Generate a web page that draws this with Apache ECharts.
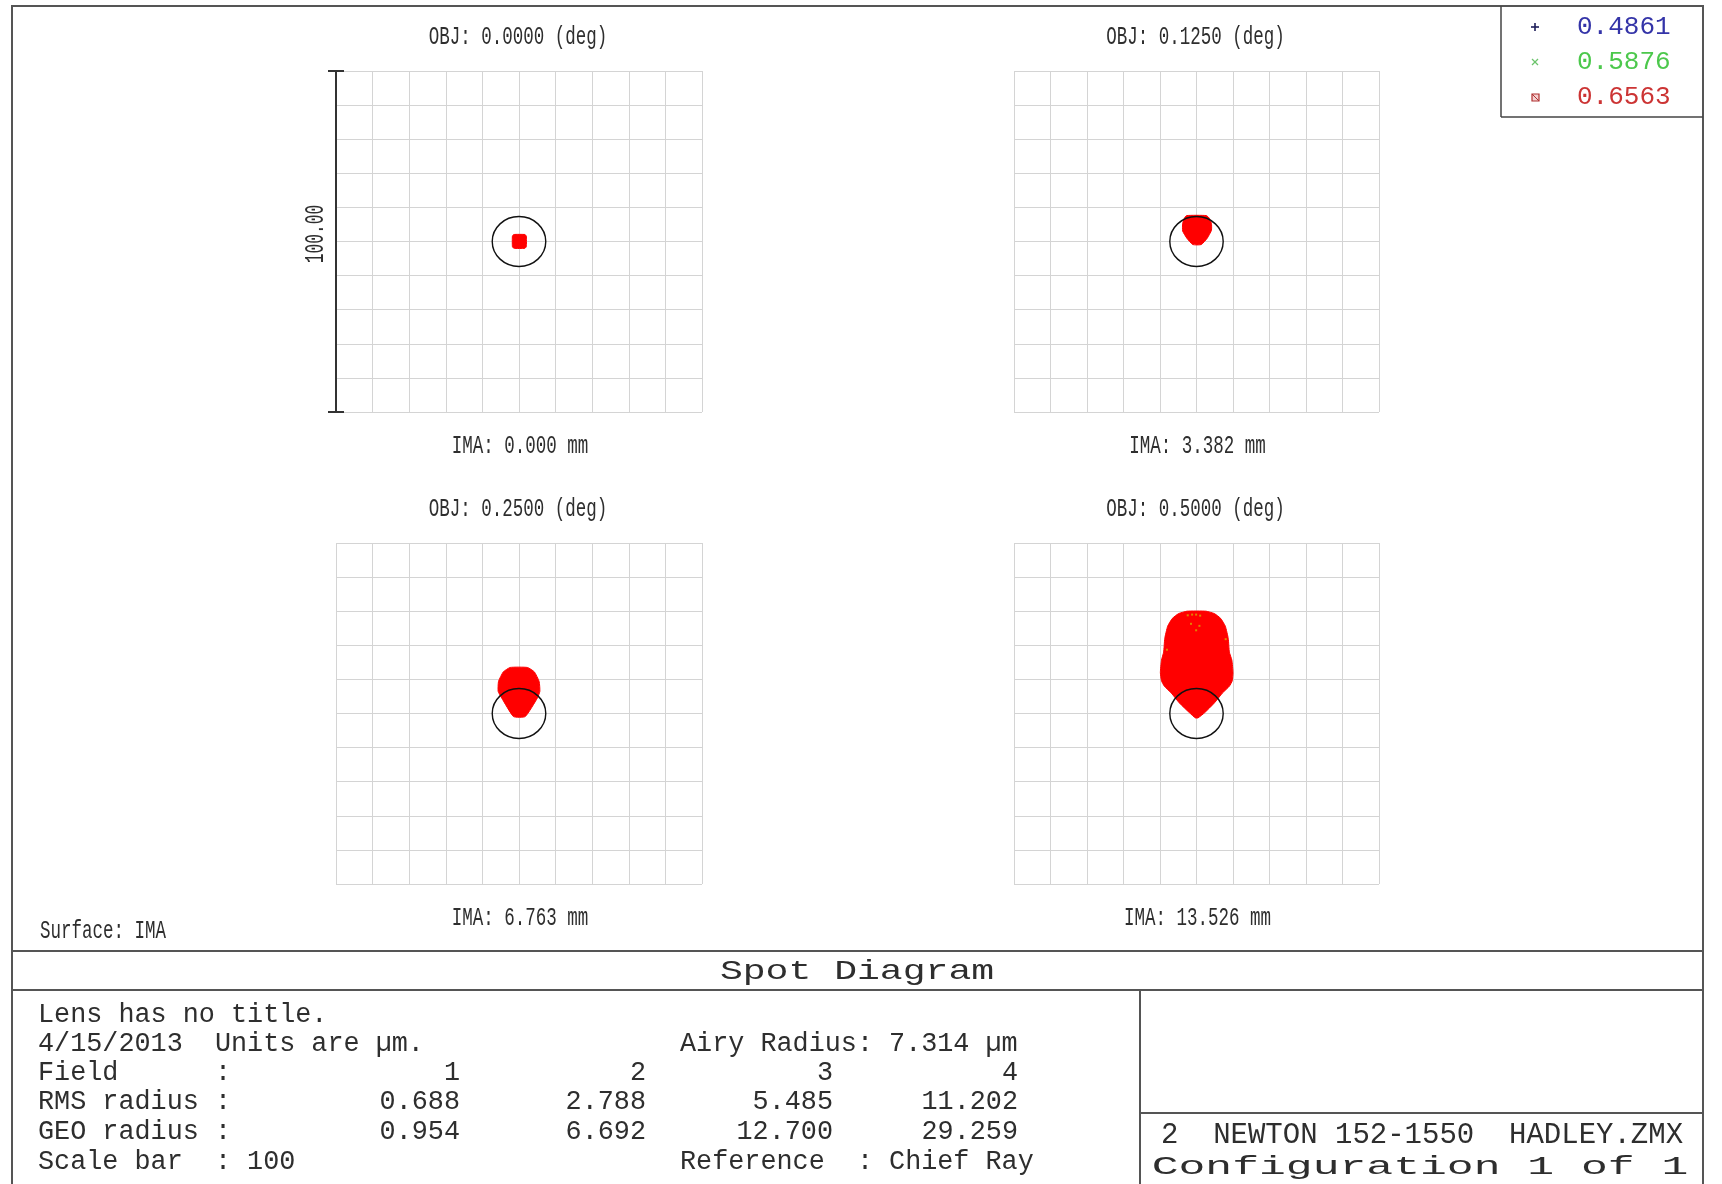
<!DOCTYPE html>
<html>
<head>
<meta charset="utf-8">
<script src="https://cdn.jsdelivr.net/npm/echarts@6/dist/echarts.min.js"></script>
<style>
  html, body { margin: 0; padding: 0; background: #fff; }
  #chart { width: 1722px; height: 1184px; }
</style>
</head>
<body>
<div id="chart"></div>
<script>
// ---- Lens / analysis data ----
const FIELD_ANGLES = ['0.0000', '0.1250', '0.2500', '0.5000'];   // deg
const IMAGE_HEIGHTS = ['0.000', '3.382', '6.763', '13.526'];     // mm
const WAVELENGTHS = ['0.4861', '0.5876', '0.6563'];              // µm
const RMS_RADIUS = ['0.688', '2.788', '5.485', '11.202'];        // µm
const GEO_RADIUS = ['0.954', '6.692', '12.700', '29.259'];       // µm
const AIRY_RADIUS = 7.314;                                       // µm
const SCALE_BAR = 100;                                           // µm
const AXIS_MIN = -50, AXIS_MAX = 50, AXIS_STEP = 10;             // µm

// Ray-intercept footprint outlines, µm relative to the chief ray (x, y)
const SPOT_FIELD_1 = [
  [-1.4, 2.05], [1.6, 2.05], [2.0, 1.6], [2.0, -1.5], [1.6, -2.0],
  [-1.4, -2.0], [-1.8, -1.5], [-1.8, 1.6]
];
const SPOT_FIELD_2 = [
  [-2.7, 7.6], [2.7, 7.6], [3.6, 6.7], [4.1, 5.3], [4.1, 3.3], [2.9, 0.9],
  [1.3, -0.9], [-1.0, -0.9], [-2.6, 0.9], [-3.8, 3.1], [-3.8, 5.3], [-3.4, 6.7]
];
const SPOT_FIELD_3 = [
  [-2.4, 13.5], [2.3, 13.5], [4.2, 12.2], [5.5, 9.4], [5.7, 6.5], [5.0, 4.5],
  [1.7, -0.9], [-1.5, -0.9], [-4.7, 4.5], [-5.7, 6.5], [-5.6, 9.4], [-4.3, 12.2]
];
const SPOT_FIELD_4 = [
  [-2.6, 30.0], [-4.9, 29.3], [-6.6, 27.9], [-7.9, 25.6], [-8.7, 22.0],
  [-9.0, 18.0], [-9.6, 15.6], [-9.9, 12.0], [-9.6, 9.6], [-8.8, 8.0],
  [-6.9, 6.0], [-4.7, 3.1], [-1.9, 0.2], [-0.3, -1.3], [0.4, -1.3],
  [2.2, 0.2], [4.9, 3.1], [7.1, 6.0], [9.0, 8.0], [9.8, 9.6], [10.0, 12.0],
  [9.7, 15.6], [9.0, 18.0], [8.7, 22.0], [7.9, 25.6], [6.6, 27.9], [4.9, 29.3],
  [2.6, 30.0]
];
const SPOTS = [SPOT_FIELD_1, SPOT_FIELD_2, SPOT_FIELD_3, SPOT_FIELD_4];
// Shorter-wavelength rays showing through at the top of the field-4 spot
const SPECKS_FIELD_4 = [
  [-2.4, 28.8], [-1.2, 29.0], [-0.1, 29.0], [1.0, 28.7], [-1.5, 26.3],
  [0.8, 25.7], [-0.1, 24.4], [-8.1, 18.7], [8.0, 21.8]
];

const WAVE_COLORS = ['#3434a8', '#4cc84c', '#cc3434'];
const SPOT_COLOR = '#ff0000';

const GRID_BOXES = [
  { left: 336, top: 71, width: 366, height: 341 },
  { left: 1014, top: 71, width: 365, height: 341 },
  { left: 336, top: 543, width: 366, height: 341 },
  { left: 1014, top: 543, width: 365, height: 341 }
];

const MONO = "'Liberation Mono', 'DejaVu Sans Mono', monospace";
const INK = '#2e2e2e';

const chart = echarts.init(document.getElementById('chart'), null, { renderer: 'canvas' });

const grid = GRID_BOXES.map(b => Object.assign({ containLabel: false }, b));
const axisCommon = {
  type: 'value', min: AXIS_MIN, max: AXIS_MAX, interval: AXIS_STEP,
  axisLine: { show: false }, axisTick: { show: false }, axisLabel: { show: false },
  splitLine: { show: true, lineStyle: { color: '#d4d4d4', width: 1 } }
};
const xAxis = GRID_BOXES.map((_, i) => Object.assign({ gridIndex: i }, axisCommon));
const yAxis = GRID_BOXES.map((_, i) => Object.assign({ gridIndex: i }, axisCommon));

const series = [];
SPOTS.forEach((outline, i) => {
  series.push({
    type: 'custom', xAxisIndex: i, yAxisIndex: i, silent: true, z: 3,
    data: outline,
    renderItem: function (params, api) {
      if (params.dataIndex !== 0) return null;
      const pts = outline.map(p => api.coord(p));
      return { type: 'polygon', shape: { points: pts, smooth: 0.15 },
        style: { fill: SPOT_COLOR, stroke: SPOT_COLOR, lineWidth: 1 } };
    }
  });
  // Airy disk around the chief ray
  series.push({
    type: 'custom', xAxisIndex: i, yAxisIndex: i, silent: true, z: 5,
    data: [[0, 0]],
    renderItem: function (params, api) {
      const c = api.coord([api.value(0), api.value(1)]);
      const s = api.size([AIRY_RADIUS, AIRY_RADIUS]);
      return { type: 'ellipse', shape: { cx: c[0], cy: c[1], rx: s[0], ry: s[1] },
        style: { fill: null, stroke: '#111', lineWidth: 1.4 } };
    }
  });
});
series.push({
  type: 'scatter', xAxisIndex: 3, yAxisIndex: 3, silent: true, z: 4,
  data: SPECKS_FIELD_4, symbol: 'rect', symbolSize: 2,
  itemStyle: { color: '#d9a400' }
});
// Scale bar along the left edge of the first field
series.push({
  type: 'custom', xAxisIndex: 0, yAxisIndex: 0, silent: true, z: 6,
  data: [[AXIS_MIN, AXIS_MIN]],
  renderItem: function (params, api) {
    const b = api.coord([api.value(0), api.value(1)]);
    const t = api.coord([api.value(0), api.value(1) + SCALE_BAR]);
    const st = { stroke: '#333', lineWidth: 2 };
    return { type: 'group', children: [
      { type: 'line', shape: { x1: b[0], y1: b[1], x2: t[0], y2: t[1] }, style: st },
      { type: 'line', shape: { x1: b[0] - 8, y1: b[1], x2: b[0] + 8, y2: b[1] }, style: st },
      { type: 'line', shape: { x1: t[0] - 8, y1: t[1], x2: t[0] + 8, y2: t[1] }, style: st }
    ] };
  }
});

// ---- Frame, captions and the data table ----
function txt(text, x, y, opt) {
  opt = opt || {};
  const align = opt.align || 'left';
  return {
    type: 'text', x: x, y: y, z: 20, silent: true,
    scaleX: opt.sx || 1, rotation: opt.rot || 0,
    style: {
      text: text, x: 0, y: 0,
      font: (opt.size || 26) + 'px ' + MONO,
      fill: opt.color || INK,
      align: align, textAlign: align,
      verticalAlign: 'middle', textVerticalAlign: 'middle'
    }
  };
}
function seg(x1, y1, x2, y2, w, c) {
  return { type: 'line', z: 15, silent: true, shape: { x1, y1, x2, y2 },
    style: { stroke: c || '#555', lineWidth: w || 2 } };
}

const graphic = [];
// outer frame and panel rules
graphic.push({ type: 'rect', z: 15, silent: true,
  shape: { x: 12, y: 6, width: 1691, height: 1200 },
  style: { fill: null, stroke: '#555', lineWidth: 2 } });
graphic.push(seg(12, 951, 1703, 951));
graphic.push(seg(12, 990, 1703, 990));
graphic.push(seg(1140, 990, 1140, 1184));
graphic.push(seg(1140, 1113, 1703, 1113));
// wavelength key
graphic.push(seg(1501, 6, 1501, 117, 1.5, '#444'));
graphic.push(seg(1501, 117, 1703, 117, 1.5, '#444'));
const keyY = [27, 62, 97];
WAVELENGTHS.forEach((w, i) => {
  graphic.push(txt(w, 1577, keyY[i], { color: WAVE_COLORS[i], size: 26 }));
});
graphic.push(seg(1531, 27, 1539, 27, 1.6, '#1e1e5a'));
graphic.push(seg(1535, 23, 1535, 31, 1.6, '#1e1e5a'));
graphic.push(seg(1532, 59, 1538, 65, 1.2, '#6cc46c'));
graphic.push(seg(1538, 59, 1532, 65, 1.2, '#6cc46c'));
graphic.push({ type: 'rect', z: 15, silent: true, shape: { x: 1532, y: 94, width: 7, height: 7 },
  style: { fill: '#f4d0d0', stroke: '#b03030', lineWidth: 1.2 } });
graphic.push(seg(1532, 94, 1539, 101, 1, '#b03030'));

// field captions
GRID_BOXES.forEach((b, i) => {
  const cx = b.left + b.width / 2;
  graphic.push(txt('OBJ: ' + FIELD_ANGLES[i] + ' (deg)', cx - 1, b.top - 34,
    { align: 'center', size: 25, sx: 0.7 }));
  graphic.push(txt('IMA: ' + IMAGE_HEIGHTS[i] + ' mm', cx + 1, b.top + b.height + 34,
    { align: 'center', size: 25, sx: 0.7 }));
});
graphic.push(txt(SCALE_BAR.toFixed(2), 316, 234, { align: 'center', size: 27, sx: 0.6, rot: Math.PI / 2 }));
graphic.push(txt('Surface: IMA', 40, 931, { size: 25, sx: 0.7 }));
graphic.push(txt('Spot Diagram', 857, 972, { align: 'center', size: 28, sx: 1.36 }));

// data table
const T = 26.8, COLS = [460, 646, 833, 1018], ROWS = [1015, 1044, 1073, 1102, 1132, 1162];
graphic.push(txt('Lens has no title.', 38, ROWS[0], { size: T }));
graphic.push(txt('4/15/2013  Units are µm.', 38, ROWS[1], { size: T }));
graphic.push(txt('Airy Radius: ' + AIRY_RADIUS.toFixed(3) + ' µm', 680, ROWS[1], { size: T }));
graphic.push(txt('Field      :', 38, ROWS[2], { size: T }));
graphic.push(txt('RMS radius :', 38, ROWS[3], { size: T }));
graphic.push(txt('GEO radius :', 38, ROWS[4], { size: T }));
graphic.push(txt('Scale bar  : ' + SCALE_BAR, 38, ROWS[5], { size: T }));
graphic.push(txt('Reference  : Chief Ray', 680, ROWS[5], { size: T }));
COLS.forEach((x, i) => {
  graphic.push(txt(String(i + 1), x, ROWS[2], { size: T, align: 'right' }));
  graphic.push(txt(RMS_RADIUS[i], x, ROWS[3], { size: T, align: 'right' }));
  graphic.push(txt(GEO_RADIUS[i], x, ROWS[4], { size: T, align: 'right' }));
});
graphic.push(txt('2  NEWTON 152-1550  HADLEY.ZMX', 1422, 1135, { align: 'center', size: 29 }));
graphic.push(txt('Configuration 1 of 1', 1420, 1167, { align: 'center', size: 26, sx: 1.72 }));

chart.setOption({
  animation: false,
  backgroundColor: '#ffffff',
  grid: grid,
  xAxis: xAxis,
  yAxis: yAxis,
  series: series,
  graphic: { elements: graphic }
});
</script>
</body>
</html>
